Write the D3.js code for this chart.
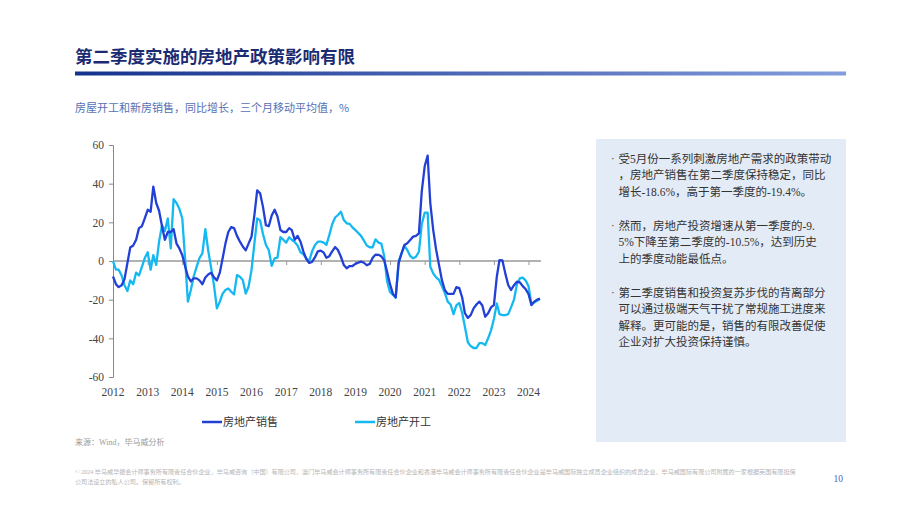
<!DOCTYPE html>
<html>
<head>
<meta charset="utf-8">
<script src="https://cdn.jsdelivr.net/npm/d3@7"></script>
<style>
  body { margin: 0; background: #fff; }
  svg { display: block; }
</style>
</head>
<body>
<svg id="chart" width="920" height="518"></svg>
<script>
// monthly data, Jan 2012 - May 2024, 3mma yoy %
let sales = [
  -8, -12, -13.5, -12.5, -9.5, -1, 7, 8, 11, 17, 18, 22,
  26.5, 25.5, 38.5, 30, 26, 18, 11, 15, 15, 16.5, 9, 6.5,
  3, -3, -8, -10.5, -9, -9, -10, -12, -8.5, -7, -6, -8.5,
  -10, -6, 1, 9, 15, 17.5, 17, 13, 10, 7.5, 5.5, 9,
  12.5, 24, 36.5, 35, 28, 18.5, 18, 23.5, 26.5, 23, 16, 15,
  15, 17, 16, 11, 13, 10, 5, 1, -1, -0.5, 2, 5,
  5.4, 4.3, 1.7, 2.5, 5, 7.2, 5.7, 2.2, -2.1, -3.8, -2.6, -2.6,
  -1.5, -0.8, -0.3, -0.9, -2.2, -1.5, 1.5, 3.3, 3.2, 2.4, 0.3, -5.5,
  -12, -17, -18.8, -1.2, 4, 8.3, 9.2, 10.9, 12.6, 13, 14.3, 36,
  49, 54.5, 30, 16, 6, -2, -9.8, -15, -17, -17, -17, -13.5,
  -14, -19, -27, -29.4, -28, -24.5, -22.5, -21, -23, -28.8, -27, -24,
  -22.8, -8, 0.5, 0.3, -6.4, -12.4, -15, -12.5, -10.7, -11, -13, -14.5,
  -17, -22.8, -21, -20, -19.5
];
let starts = [
  0, -4.5, -4.5, -7.5, -12.5, -15.5, -10, -12, -6, -7.5, -3, 1.5,
  4.5, -4.5, 3, -2, 10, 18.5, 15.5, 22, 6.5, 32, 30, 27,
  22, 0, -21, -15, -8, -3, 1.5, 4, 16.5, 5.5, -3.5, -12.5,
  -24.5, -21, -17, -15, -14.2, -15.9, -17.3, -7.3, -8.1, -9.8, -16.8, -13.3,
  -4.7, 9.2, 22, 21, 14, 8.3, 5.7, -2.5, 1.4, 1.8, 12.3, 11,
  9.5, 12.3, 11, 9.8, 8, 4.5, 3.5, 1.4, 0, 5, 8.3, 10,
  10, 9.5, 8.3, 13.5, 19, 22.5, 23.8, 25.5, 21.2, 19.5, 19.2, 17.4,
  16, 14.5, 13, 10.5, 8, 7.1, 7.1, 11.2, 9.5, 9, 2.5, -10.5,
  -16, -17.5, -19, 0, 3.5, 7.8, 5.7, 2.6, 1.4, 2.2, 4.8, 19,
  25, 25, -3, -6.4, -8.5, -9.8, -13, -16.5, -21, -22.5, -27.5, -23,
  -21.7, -27, -34, -42, -44, -45, -45, -42.5, -42.5, -43.5, -40, -36,
  -30, -22, -27.5, -28, -28, -27.5, -24, -20, -12, -9, -8.6, -10,
  -13, -22.5, -21.5, -20.5, -19.7
];
let seriesNames = ["房地产销售", "房地产开工"];
let seriesColors = ["#2340d6", "#14b9f2"];
let yTicks = [60, 40, 20, 0, -20, -40, -60];
let yearTicks = [2012, 2013, 2014, 2015, 2016, 2017, 2018, 2019, 2020, 2021, 2022, 2023, 2024];

let title = "第二季度实施的房地产政策影响有限";
let subtitle = "房屋开工和新房销售，同比增长，三个月移动平均值，%";
let source = "来源：Wind，毕马威分析";
let notes = [
  ["受5月份一系列刺激房地产需求的政策带动", "，房地产销售在第二季度保持稳定，同比", "增长-18.6%，高于第一季度的-19.4%。"],
  ["然而，房地产投资增速从第一季度的-9.", "5%下降至第二季度的-10.5%，达到历史", "上的季度动能最低点。"],
  ["第二季度销售和投资复苏步伐的背离部分", "可以通过极端天气干扰了常规施工进度来", "解释。更可能的是，销售的有限改善促使", "企业对扩大投资保持谨慎。"]
];
let footer = [
  "© 2024 毕马威华振会计师事务所有限责任合伙企业，毕马威咨询（中国）有限公司，澳门毕马威会计师事务所有限责任合伙企业和香港毕马威会计师事务所有限责任合伙企业是毕马威国际独立成员企业组织的成员企业，毕马威国际有限公司附属的一家根据英国有限担保",
  "公司法设立的私人公司。保留所有权利。"
];

let svg = d3.select("#chart");
let cjk = "'Noto Sans CJK SC', sans-serif";
let serif = "'Liberation Serif', 'Noto Sans CJK SC', serif";

// header
let grad = svg.append("defs").append("linearGradient")
    .attr("id", "bar").attr("x1", "0%").attr("x2", "100%");
grad.append("stop").attr("offset", "0%").attr("stop-color", "#14318c");
grad.append("stop").attr("offset", "100%").attr("stop-color", "#859ddd");

svg.append("text")
    .attr("x", 75).attr("y", 63)
    .attr("font-family", cjk).attr("font-weight", "bold")
    .attr("font-size", 17.5).attr("fill", "#1b2b72")
    .text(title);
svg.append("rect")
    .attr("x", 75).attr("y", 71.5).attr("width", 771).attr("height", 4)
    .attr("fill", "url(#bar)");
svg.append("text")
    .attr("x", 75).attr("y", 112)
    .attr("font-family", cjk).attr("font-size", 11)
    .attr("fill", "#5670b4")
    .text(subtitle);

// scales
let months = d3.range(sales.length).map(function(i) { return d3.timeMonth.offset(new Date(2012, 0, 1), i); });
let x = d3.scaleTime()
    .domain([new Date(2012, 0, 1), new Date(2024, 0, 1)])
    .range([113, 528.5]);
let y = d3.scaleLinear()
    .domain([-60, 60])
    .range([377, 145]);

// y axis, plain hyphen for negatives
let yAxis = svg.append("g")
    .attr("transform", "translate(113,0)")
    .call(d3.axisLeft(y).tickValues(yTicks).tickSize(4).tickPadding(5)
        .tickFormat(function(d) { return String(d); }));
yAxis.select(".domain").attr("stroke", "#888");
yAxis.selectAll(".tick line").attr("stroke", "#888");
yAxis.selectAll("text")
    .attr("font-family", serif).attr("font-size", 11.5).attr("fill", "#444");

// zero line with year ticks
let xAxis = svg.append("g")
    .attr("transform", "translate(0," + y(0) + ")")
    .call(d3.axisBottom(x)
        .tickValues(yearTicks.map(function(yr) { return new Date(yr, 0, 1); }))
        .tickSize(4).tickFormat(""));
xAxis.select(".domain")
    .attr("d", "M113,0H" + (x(months[months.length - 1]) + 1))
    .attr("stroke", "#999").attr("stroke-width", 1.5);
xAxis.selectAll(".tick line").attr("stroke", "#999");

// year labels at bottom
svg.append("g").selectAll("text")
    .data(yearTicks)
  .enter().append("text")
    .attr("x", function(d) { return x(new Date(d, 0, 1)); })
    .attr("y", 396)
    .attr("text-anchor", "middle")
    .attr("font-family", serif).attr("font-size", 11.5).attr("fill", "#444")
    .text(function(d) { return d; });

// lines
let line = d3.line()
    .x(function(d, i) { return x(months[i]); })
    .y(function(d) { return y(d); });

[starts, sales].forEach(function(s, k) {
    svg.append("path")
        .datum(s)
        .attr("d", line)
        .attr("fill", "none")
        .attr("stroke", k == 0 ? seriesColors[1] : seriesColors[0])
        .attr("stroke-width", 2.3)
        .attr("stroke-linejoin", "round");
});

// legend
let legendX = [202, 355];
let legend = svg.append("g").selectAll("g")
    .data(seriesNames)
  .enter().append("g")
    .attr("transform", function(d, i) { return "translate(" + legendX[i] + ",422)"; });
legend.append("line")
    .attr("x1", 0).attr("x2", 20)
    .attr("stroke", function(d, i) { return seriesColors[i]; })
    .attr("stroke-width", 2.5);
legend.append("text")
    .attr("x", 21).attr("y", 4)
    .attr("font-family", cjk).attr("font-size", 11).attr("fill", "#333")
    .text(function(d) { return d; });

svg.append("text")
    .attr("x", 75).attr("y", 445)
    .attr("font-family", serif).attr("font-size", 8).attr("fill", "#9a9a9a")
    .text(source);

// right note box
svg.append("rect")
    .attr("x", 596).attr("y", 139).attr("width", 250).attr("height", 303)
    .attr("fill", "#e3ebf6");

let paraTop = [158.5, 225.5, 292.5];
notes.forEach(function(lines, p) {
    svg.append("text")
        .attr("x", 611).attr("y", paraTop[p]).attr("dy", "0.35em")
        .attr("font-family", "'Liberation Serif', serif").attr("font-size", 11).attr("fill", "#333")
        .text("·");
    svg.append("g").selectAll("text")
        .data(lines)
      .enter().append("text")
        .attr("x", 618.5)
        .attr("y", function(d, i) { return paraTop[p] + i * 16.5; })
        .attr("dy", "0.35em")
        .attr("font-family", serif).attr("font-size", 11.5).attr("fill", "#333")
        .text(function(d) { return d; });
});

// footer
svg.append("g").selectAll("text")
    .data(footer)
  .enter().append("text")
    .attr("x", 75)
    .attr("y", function(d, i) { return 474 + i * 9.5; })
    .attr("font-family", serif).attr("font-size", 6.1).attr("fill", "#b5b5b5")
    .text(function(d) { return d; });
svg.append("text")
    .attr("x", 843).attr("y", 482).attr("text-anchor", "end")
    .attr("font-family", serif).attr("font-size", 9.5).attr("fill", "#4c63b8")
    .text("10");
</script>
</body>
</html>
